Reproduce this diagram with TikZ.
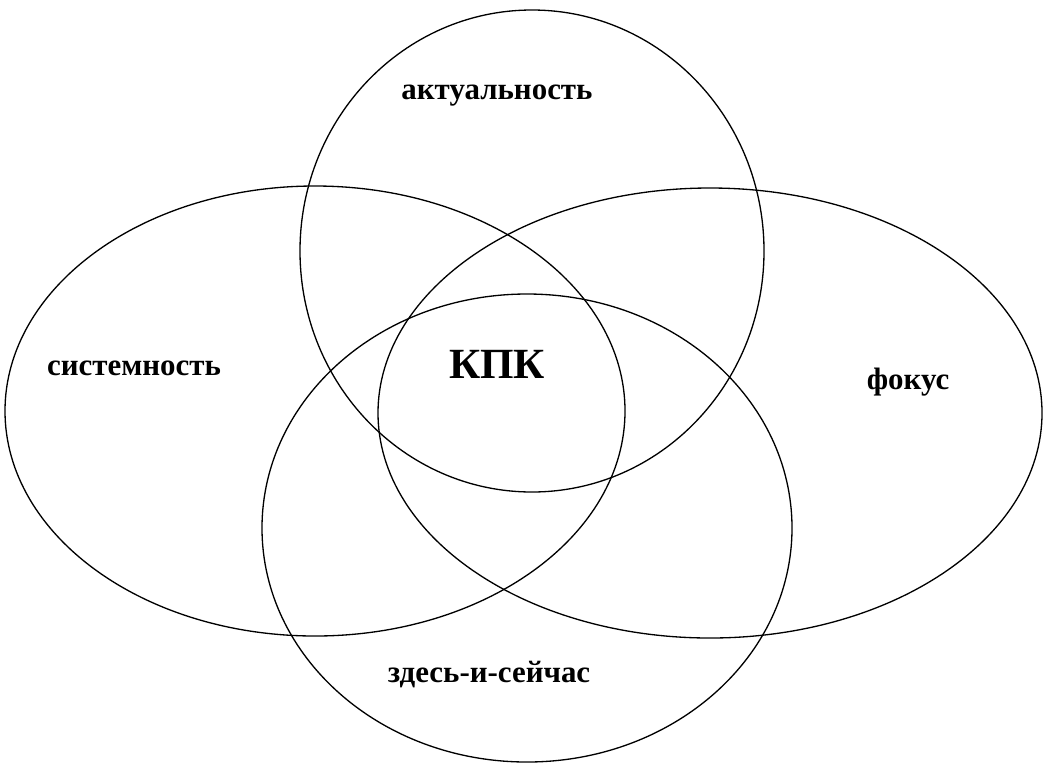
\documentclass[tikz,border=0pt]{standalone}
\usepackage{fontspec}
\setmainfont{Liberation Serif}
\usepackage{tikz}
\usetikzlibrary{positioning}

\tikzset{
  venn/.style={draw=black, line width=0.75pt},
  lbl/.style={font=\bfseries\fontsize{17.6}{20}\selectfont, inner sep=0pt},
  core/.style={font=\bfseries\fontsize{24.5}{28}\selectfont, inner sep=0pt}
}

\begin{document}
\begin{tikzpicture}[x=0.02cm, y=-0.02cm]
		% Frame:
		\useasboundingbox (0,0) rectangle (1047,765);
		% Sets:
		\draw[venn] (532,251) ellipse [x radius=232, y radius=241];
		\draw[venn] (315,411) ellipse [x radius=310, y radius=225];
		\draw[venn] (710,413) ellipse [x radius=332, y radius=225];
		\draw[venn] (527,528) ellipse [x radius=265, y radius=234];
		% Labels:
		\node[lbl](Akt) at (497, 96){актуальность};
		\node[lbl](Sys) at (134, 368){системность};
		\node[lbl](Fok) at (908, 382){фокус};
		\node[lbl](Zds) at (489, 675){здесь-и-сейчас};
		\node[core](Kpk) at (497, 364){КПК};
	\end{tikzpicture}
\end{document}
